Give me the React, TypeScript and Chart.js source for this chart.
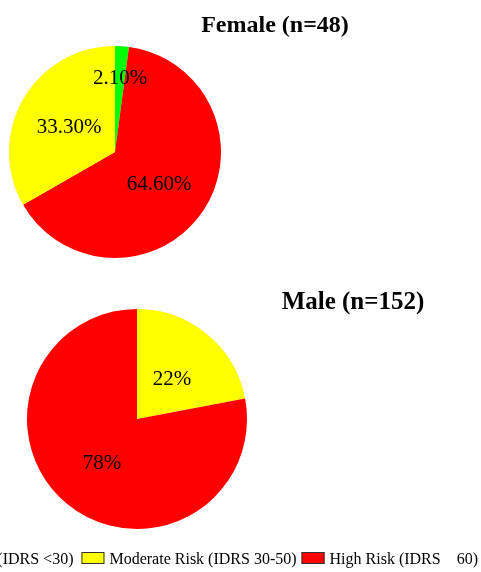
import { useEffect, useRef } from "react";
import { Chart, registerables } from "chart.js";

Chart.register(...registerables);

// ---- Data ----
const legendLabels = ["Low Risk (IDRS <30)", "Moderate Risk (IDRS 30-50)", "High Risk (IDRS    60)"];
const legendColors = ["#00ff00", "#ffff00", "#ff0000"];

const femaleTitle = "Female (n=48)";
const femaleCategories = ["Low Risk", "High Risk", "Moderate Risk"];
const femaleValues = [2.1, 64.6, 33.3];
const femaleValueLabels = ["2.10%", "64.60%", "33.30%"];
const femaleColors = ["#00ff00", "#ff0000", "#ffff00"];

const maleTitle = "Male (n=152)";
const maleCategories = ["Moderate Risk", "High Risk"];
const maleValues = [22, 78];
const maleValueLabels = ["22%", "78%"];
const maleColors = ["#ffff00", "#ff0000"];

const SERIF = '"Liberation Serif", "Times New Roman", serif';

type PieCfg = {
  title: string;
  titleSize: number;
  titleX: number;
  titleY: number;
  valueLabels: string[];
  labelFrac: number[];
  legend: boolean;
  legendRight: number;
  legendBaseline: number;
};

function makePlugin(cfg: PieCfg) {
  return {
    id: "customDraw",
    afterDatasetsDraw(chart: any) {
      const ctx = chart.ctx;
      ctx.save();
      // value labels
      const meta = chart.getDatasetMeta(0);
      ctx.font = `21px ${SERIF}`;
      ctx.fillStyle = "#000";
      ctx.textAlign = "center";
      ctx.textBaseline = "alphabetic";
      meta.data.forEach((arc: any, i: number) => {
        const p = arc.getProps(["x", "y", "startAngle", "endAngle", "outerRadius"], true);
        const mid = (p.startAngle + p.endAngle) / 2;
        const r = p.outerRadius * cfg.labelFrac[i];
        ctx.fillText(cfg.valueLabels[i], p.x + Math.cos(mid) * r, p.y + Math.sin(mid) * r + 8);
      });
      // title
      ctx.font = `bold ${cfg.titleSize}px ${SERIF}`;
      ctx.textAlign = "center";
      ctx.textBaseline = "alphabetic";
      ctx.fillText(cfg.title, cfg.titleX, cfg.titleY);
      // legend (laid out right to left)
      if (cfg.legend) {
        ctx.font = `16px ${SERIF}`;
        ctx.textAlign = "left";
        const boxW = 23;
        const boxH = 12;
        const gapBox = 5;
        const gapAfter = [8, 5, 0];
        const by = cfg.legendBaseline;
        let right = cfg.legendRight;
        for (let i = legendLabels.length - 1; i >= 0; i--) {
          const t = legendLabels[i];
          const w = ctx.measureText(t).width;
          right -= gapAfter[i];
          const tx = right - w;
          const bx = tx - gapBox - boxW;
          ctx.fillStyle = legendColors[i];
          ctx.fillRect(bx, by - boxH, boxW, boxH);
          ctx.strokeStyle = "#333";
          ctx.lineWidth = 1;
          ctx.strokeRect(bx + 0.5, by - boxH + 0.5, boxW - 1, boxH - 1);
          ctx.fillStyle = "#000";
          ctx.fillText(t, tx, by);
          right = bx;
        }
      }
      ctx.restore();
    },
  };
}

function PieChart(props: {
  top: number;
  height: number;
  categories: string[];
  values: number[];
  colors: string[];
  padding: { left: number; right: number; top: number; bottom: number };
  cfg: PieCfg;
}) {
  const ref = useRef<HTMLCanvasElement | null>(null);
  useEffect(() => {
    if (!ref.current) return;
    const chart = new Chart(ref.current, {
      type: "pie",
      data: {
        labels: props.categories,
        datasets: [
          {
            data: props.values,
            backgroundColor: props.colors,
            borderWidth: 0,
          },
        ],
      },
      options: {
        responsive: false,
        maintainAspectRatio: false,
        animation: false,
        layout: { padding: props.padding },
        plugins: {
          legend: { display: false },
          tooltip: { enabled: false },
        },
      },
      plugins: [makePlugin(props.cfg)],
    });
    return () => chart.destroy();
  }, []);
  return (
    <canvas
      ref={ref}
      width={481}
      height={props.height}
      style={{ position: "absolute", left: 0, top: props.top, width: 481, height: props.height, display: "block" }}
    />
  );
}

export default function App() {
  return (
    <div style={{ position: "absolute", left: 0, top: 0, width: 481, height: 572, overflow: "hidden", background: "#fff" }}>
      <PieChart
        top={0}
        height={286}
        categories={femaleCategories}
        values={femaleValues}
        colors={femaleColors}
        padding={{ left: 9, right: 260, top: 46, bottom: 28 }}
        cfg={{
          title: femaleTitle,
          titleSize: 24,
          titleX: 275,
          titleY: 32,
          valueLabels: femaleValueLabels,
          labelFrac: [0.72, 0.5, 0.5],
          legend: false,
          legendRight: 0,
          legendBaseline: 0,
        }}
      />
      <PieChart
        top={286}
        height={286}
        categories={maleCategories}
        values={maleValues}
        colors={maleColors}
        padding={{ left: 27, right: 234, top: 23, bottom: 43 }}
        cfg={{
          title: maleTitle,
          titleSize: 25,
          titleX: 353,
          titleY: 23,
          valueLabels: maleValueLabels,
          labelFrac: [0.5, 0.5],
          legend: true,
          legendRight: 478,
          legendBaseline: 278,
        }}
      />
    </div>
  );
}
